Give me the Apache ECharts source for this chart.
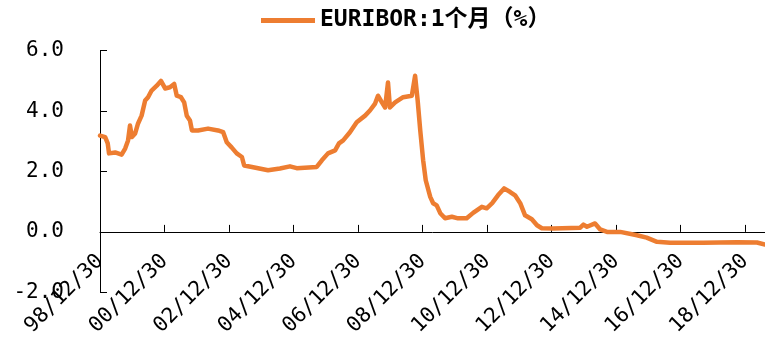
<!DOCTYPE html>
<html>
<head>
<meta charset="utf-8">
<script src="https://cdn.jsdelivr.net/npm/echarts@6/dist/echarts.min.js"></script>
<style>
  html, body { margin: 0; padding: 0; background: #fff; }
  #chart { width: 765px; height: 337px; }
</style>
</head>
<body>
<div id="chart"></div>
<script>
// 1-month EURIBOR, sampled dates as decimal years
const years = [
  1999.00, 1999.16, 1999.24, 1999.28, 1999.47, 1999.67, 1999.78, 1999.87, 1999.93, 1999.99,
  2000.09, 2000.18, 2000.29, 2000.40, 2000.49, 2000.60, 2000.76, 2000.89, 2001.02, 2001.17,
  2001.30, 2001.38, 2001.51, 2001.61, 2001.69, 2001.79, 2001.85, 2002.04, 2002.35, 2002.66,
  2002.82, 2002.93, 2003.08, 2003.24, 2003.40, 2003.47, 2003.71, 2004.21, 2004.58, 2004.89,
  2005.10, 2005.72, 2005.88, 2006.07, 2006.29, 2006.41, 2006.54, 2006.75, 2006.96, 2007.22,
  2007.37, 2007.53, 2007.62, 2007.74, 2007.84, 2007.93, 2007.99, 2008.15, 2008.40, 2008.67,
  2008.77, 2008.85, 2008.93, 2009.02, 2009.10, 2009.24, 2009.33, 2009.44, 2009.55, 2009.70,
  2009.91, 2010.10, 2010.37, 2010.57, 2010.84, 2010.99, 2011.16, 2011.34, 2011.53, 2011.72,
  2011.87, 2012.03, 2012.18, 2012.39, 2012.55, 2012.70, 2013.05, 2013.89, 2013.99, 2014.10,
  2014.35, 2014.51, 2014.72, 2015.13, 2015.65, 2015.95, 2016.27, 2016.68, 2017.70, 2018.75,
  2019.37, 2019.62
];
const rates = [
  3.19, 3.14, 2.93, 2.60, 2.63, 2.56, 2.76, 3.03, 3.52, 3.14,
  3.26, 3.59, 3.85, 4.35, 4.46, 4.68, 4.84, 5.00, 4.75, 4.79,
  4.90, 4.51, 4.46, 4.29, 3.85, 3.69, 3.36, 3.36, 3.42, 3.36,
  3.30, 2.97, 2.80, 2.60, 2.48, 2.20, 2.15, 2.04, 2.10, 2.17,
  2.11, 2.15, 2.37, 2.60, 2.70, 2.93, 3.03, 3.30, 3.63, 3.85,
  4.02, 4.25, 4.51, 4.29, 4.12, 4.95, 4.12, 4.29, 4.46, 4.51,
  5.17, 4.35, 3.36, 2.37, 1.71, 1.16, 0.95, 0.88, 0.62, 0.45,
  0.50, 0.45, 0.45, 0.63, 0.83, 0.78, 0.95, 1.21, 1.44, 1.32,
  1.21, 0.95, 0.55, 0.42, 0.22, 0.12, 0.11, 0.14, 0.24, 0.17,
  0.28, 0.08, 0.00, 0.00, -0.11, -0.19, -0.33, -0.36, -0.36, -0.34,
  -0.35, -0.42
];

// Date ticks every two years
const tickYears = [1999, 2001, 2003, 2005, 2007, 2009, 2011, 2013, 2015, 2017, 2019];
const tickLabels = ['98/12/30', '00/12/30', '02/12/30', '04/12/30', '06/12/30', '08/12/30',
                    '10/12/30', '12/12/30', '14/12/30', '16/12/30', '18/12/30'];

const seriesName = 'EURIBOR:1个月（%）';
const lineColor = '#ED7D31';
const monoFont = '"DejaVu Sans Mono", "Noto Sans CJK SC", monospace';

const gridTop = 50.7;
const gridBottom = 44.7;
const yMin = -2, yMax = 6;
// lift the date axis from the grid bottom up to the zero line
const plotHeight = 337 - gridTop - gridBottom;
const zeroLift = plotHeight * (0 - yMin) / (yMax - yMin);

const chart = echarts.init(document.getElementById('chart'), null, { renderer: 'canvas' });
chart.setOption({
  animation: false,
  backgroundColor: '#ffffff',
  legend: {
    top: 4,
    left: 256,
    itemWidth: 54,
    itemHeight: 24,
    itemGap: 6,
    textStyle: { fontFamily: monoFont, fontSize: 23, fontWeight: 'bold', color: '#000' },
    data: [{ name: seriesName, icon: 'path://M0,0 L54,0 L54,5 L0,5 Z', itemStyle: { color: lineColor } }]
  },
  grid: { left: 100, right: 0, top: gridTop, bottom: gridBottom, containLabel: false, outerBoundsMode: 'none' },
  xAxis: {
    type: 'value',
    min: 1999,
    max: 2019.62,
    position: 'bottom',
    offset: -zeroLift,
    axisLine: { onZero: false, lineStyle: { color: '#000', width: 1 } },
    axisTick: { show: true, inside: true, length: 7, customValues: tickYears, lineStyle: { color: '#000' } },
    axisLabel: {
      customValues: tickYears,
      rotate: 45,
      margin: 26,
      fontFamily: monoFont,
      fontSize: 21,
      color: '#000',
      formatter: v => tickLabels[tickYears.indexOf(v)] || ''
    },
    splitLine: { show: false }
  },
  yAxis: {
    type: 'value',
    min: yMin,
    max: yMax,
    interval: 2,
    axisLine: { show: true, onZero: false, lineStyle: { color: '#000', width: 1 } },
    axisTick: { show: true, inside: true, length: 7, lineStyle: { color: '#000' } },
    axisLabel: {
      margin: 36,
      fontFamily: monoFont,
      fontSize: 21,
      color: '#000',
      formatter: v => v.toFixed(1)
    },
    splitLine: { show: false }
  },
  series: [{
    name: seriesName,
    type: 'line',
    symbol: 'none',
    smooth: false,
    data: years.map((y, i) => [y, rates[i]]),
    lineStyle: { color: lineColor, width: 4.5, join: 'round', cap: 'round' },
    itemStyle: { color: lineColor }
  }]
});
</script>
</body>
</html>
